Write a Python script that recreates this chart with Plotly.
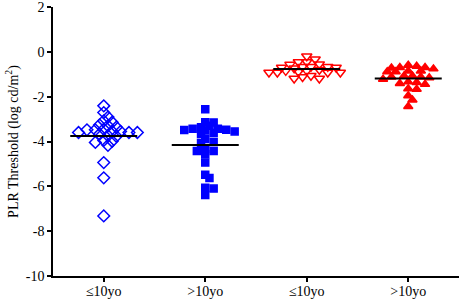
import numpy as np
import plotly.graph_objects as go

categories = ["≤10yo", ">10yo", "≤10yo", ">10yo"]

young_blue = [-2.41, -2.71, -2.91, -3.14, -3.08, -3.30, -3.26, -3.36, -3.55, -3.60, -3.45,
              -3.48, -3.55, -3.48, -3.60, -3.60, -3.67, -3.77, -3.74, -3.95, -4.04, -4.17,
              -3.99, -4.94, -5.62, -7.32]
old_blue = [-2.56, -3.15, -3.14, -3.30, -3.36, -3.43, -3.49, -3.55, -3.67, -3.62, -3.51,
            -3.48, -3.43, -3.89, -4.07, -4.02, -4.42, -4.42, -4.33, -4.57, -4.94, -5.48,
            -5.63, -6.06, -6.10, -6.39]
young_red = [-0.20, -0.45, -0.33, -0.45, -0.57, -0.55, -0.70, -0.70, -0.67, -0.67, -0.73,
             -0.67, -0.92, -0.92, -0.89, -0.85, -0.92, -0.85, -0.92, -1.12, -1.19, -1.19,
             -1.07, -0.80]
old_red = [-0.60, -0.70, -0.70, -0.64, -0.76, -0.72, -0.85, -0.89, -0.89, -0.85, -1.08,
           -1.12, -1.22, -1.12, -1.08, -1.16, -1.37, -1.34, -1.45, -1.41, -1.67, -1.65,
           -1.96, -2.15, -2.44]

groups = [young_blue, old_blue, young_red, old_red]
symbols = ["diamond-open", "square", "triangle-down-open", "triangle-up"]
colors = ["#0000FF", "#0000FF", "#FF0000", "#FF0000"]
sizes = [9, 7, 9, 8]

# pixel scale estimates used only for the beeswarm collision layout
PX_PER_X = 101.5
PX_PER_Y = 22.58
STEP = 4.2
MIN_DIST = 5.3


def beeswarm(vals):
    order = np.argsort(-np.array(vals))
    placed = []
    offs = np.zeros(len(vals))
    for i in order:
        y = vals[i] * PX_PER_Y
        k = 0
        while True:
            cands = [0.0] if k == 0 else [k * STEP, -k * STEP]
            found = None
            for c in cands:
                if all((c - px) ** 2 + (y - py) ** 2 >= MIN_DIST ** 2 for px, py in placed):
                    found = c
                    break
            if found is not None:
                placed.append((found, y))
                offs[i] = found / PX_PER_X
                break
            k += 1
    return offs


fig = go.Figure()
for gi, vals in enumerate(groups):
    offs = beeswarm(vals)
    fig.add_trace(go.Scatter(
        x=gi + offs, y=vals, mode="markers",
        marker=dict(symbol=symbols[gi], color=colors[gi], size=sizes[gi],
                    line=dict(color=colors[gi], width=1.5)),
        showlegend=False, hoverinfo="skip", cliponaxis=False))
    m = float(np.mean(vals))
    fig.add_trace(go.Scatter(x=[gi - 0.33, gi + 0.33], y=[m, m], mode="lines",
                             line=dict(color="black", width=2),
                             showlegend=False, hoverinfo="skip"))

font = dict(family="Liberation Serif, Times New Roman, serif", size=14, color="black")
fig.update_layout(
    width=461, height=300,
    margin=dict(l=53, r=2, t=7, b=24, autoexpand=False),
    paper_bgcolor="white", plot_bgcolor="white",
    font=font,
    xaxis=dict(range=[-0.5, 3.5], tickvals=[0, 1, 2, 3], ticktext=categories,
               showline=True, linecolor="black", linewidth=1.5, ticks="outside",
               ticklen=4, tickwidth=1.5, tickcolor="black", showgrid=False,
               zeroline=False, fixedrange=True, automargin=False,
               ticklabeloverflow="allow", ticklabelstandoff=-3),
    yaxis=dict(range=[-10, 2], tickvals=[2, 0, -2, -4, -6, -8, -10],
               ticktext=["2", "0", "-2", "-4", "-6", "-8", "-10"],
               showline=True, linecolor="black", linewidth=1.5, ticks="outside",
               ticklen=4, tickwidth=1.5, tickcolor="black", showgrid=False,
               zeroline=False, automargin=False, ticklabeloverflow="allow",
               fixedrange=True,
               title=dict(text="PLR Threshold (log cd/m<sup>2</sup>)",
                          standoff=4, font=font)),
)

fig.write_html("out.html", config={"displayModeBar": False},
               post_script="document.body.style.margin='0px';")
